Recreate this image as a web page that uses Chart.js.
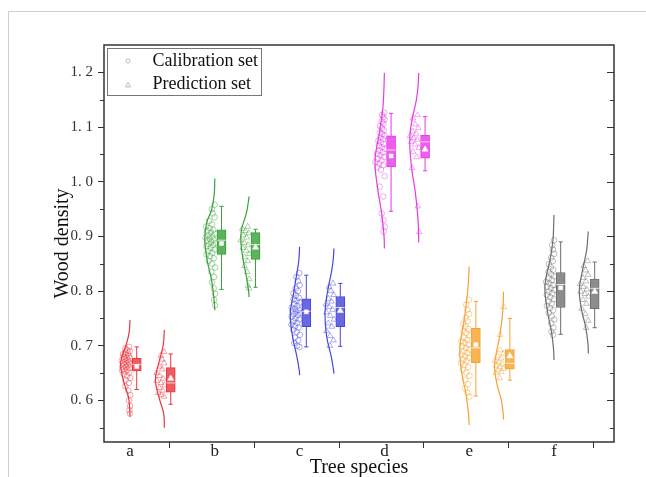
<!DOCTYPE html>
<html><head><meta charset="utf-8">
<script src="https://cdn.jsdelivr.net/npm/chart.js@4.4.1/dist/chart.umd.min.js"></script>
<style>
html,body{margin:0;padding:0;background:#fff;}
#wrap{position:relative;width:646px;height:477px;overflow:hidden;}
#frame{position:absolute;left:8px;top:11px;right:-2px;bottom:-2px;border-top:1px solid #cfcfcf;border-left:1px solid #cfcfcf;pointer-events:none;}
canvas{position:absolute;left:0;top:0;}
</style></head><body>
<div id="wrap"><canvas id="c" width="646" height="477"></canvas><div id="frame"></div></div>
<script>
// ---------- data ----------
const species = ['a','b','c','d','e','f'];
const yTicks = [0.6,0.7,0.8,0.9,1.0,1.1,1.2];
const yMinorTicks = [0.55,0.65,0.75,0.85,0.95,1.05,1.15];
const legendLabels = ['Calibration set','Prediction set'];

// box statistics (a..f)
const calWhiskerHigh = [0.698,0.955,0.829,1.125,0.781,0.890];
const calQ3          = [0.677,0.912,0.786,1.084,0.732,0.834];
const calMedian      = [0.666,0.893,0.763,1.058,0.696,0.812];
const calMean        = [0.662,0.887,0.762,1.047,0.702,0.806];
const calQ1          = [0.654,0.867,0.735,1.027,0.669,0.770];
const calWhiskerLow  = [0.620,0.803,0.698,0.946,0.608,0.721];
const predWhiskerHigh= [0.685,0.913,0.814,1.119,0.750,0.853];
const predQ3         = [0.660,0.907,0.790,1.085,0.693,0.822];
const predMedian     = [0.632,0.885,0.770,1.073,0.668,0.805];
const predMean       = [0.640,0.880,0.764,1.059,0.681,0.799];
const predQ1         = [0.615,0.858,0.735,1.043,0.657,0.768];
const predWhiskerLow = [0.593,0.807,0.699,1.020,0.637,0.733];

// individual samples
const calA = [0.698,0.695,0.692,0.690,0.688,0.686,0.685,0.683,0.681,0.680,0.678,0.677,0.676,0.674,0.673,0.671,0.670,0.668,0.667,0.666,0.665,0.664,0.662,0.661,0.660,0.658,0.656,0.655,0.653,0.651,0.648,0.645,0.641,0.637,0.632,0.626,0.618,0.610,0.600,0.590,0.582,0.576];
const calB = [0.958,0.950,0.942,0.935,0.928,0.922,0.918,0.915,0.912,0.910,0.907,0.905,0.902,0.900,0.898,0.896,0.894,0.892,0.890,0.888,0.886,0.884,0.882,0.879,0.876,0.873,0.870,0.867,0.864,0.860,0.855,0.850,0.843,0.835,0.826,0.816,0.805,0.795,0.784,0.774];
const calC = [0.833,0.826,0.818,0.811,0.805,0.800,0.796,0.792,0.788,0.785,0.782,0.779,0.776,0.773,0.770,0.768,0.766,0.764,0.762,0.760,0.758,0.756,0.753,0.750,0.748,0.745,0.742,0.739,0.736,0.733,0.729,0.725,0.720,0.715,0.710,0.705,0.700,0.698];
const calD = [1.126,1.122,1.118,1.114,1.110,1.106,1.102,1.098,1.094,1.090,1.087,1.084,1.081,1.078,1.075,1.072,1.069,1.066,1.063,1.060,1.057,1.054,1.051,1.048,1.045,1.042,1.039,1.036,1.033,1.030,1.026,1.022,1.010,0.991,0.973,0.942,0.930,0.918,0.909];
const calE = [0.784,0.775,0.766,0.758,0.751,0.745,0.740,0.735,0.731,0.727,0.723,0.719,0.715,0.711,0.708,0.705,0.702,0.699,0.696,0.693,0.690,0.687,0.684,0.681,0.678,0.675,0.672,0.669,0.665,0.661,0.656,0.651,0.645,0.638,0.630,0.622,0.614,0.607];
const calF = [0.893,0.884,0.876,0.868,0.861,0.855,0.849,0.844,0.839,0.835,0.831,0.827,0.823,0.820,0.817,0.814,0.811,0.808,0.805,0.802,0.799,0.796,0.793,0.789,0.785,0.781,0.777,0.773,0.769,0.765,0.760,0.754,0.748,0.741,0.733,0.726,0.720];
const predA = [0.689,0.682,0.675,0.668,0.662,0.657,0.650,0.645,0.640,0.636,0.632,0.628,0.623,0.618,0.614,0.610,0.607];
const predB = [0.918,0.914,0.910,0.906,0.902,0.898,0.893,0.888,0.884,0.879,0.874,0.868,0.862,0.855,0.846,0.835,0.822,0.810,0.805];
const predC = [0.814,0.808,0.800,0.793,0.786,0.781,0.776,0.771,0.766,0.761,0.755,0.748,0.741,0.735,0.727,0.718,0.710,0.700];
const predD = [1.122,1.116,1.105,1.098,1.092,1.088,1.084,1.080,1.077,1.073,1.068,1.062,1.055,1.045,1.025,0.955,0.908];
const predE = [0.771,0.720,0.692,0.686,0.681,0.677,0.673,0.670,0.667,0.664,0.661,0.658,0.655,0.652,0.650,0.641];
const predF = [0.855,0.846,0.838,0.830,0.824,0.818,0.813,0.808,0.803,0.799,0.795,0.790,0.784,0.777,0.768,0.758,0.746,0.733];

// half-violin density outlines: [value, density width]
const violinCalA = [[0.747,0],[0.725,0.01],[0.705,0.039],[0.670,0.11],[0.637,0.079],[0.607,0.02],[0.585,0.004],[0.570,0]];
const violinCalB = [[1.006,0],[0.975,0.008],[0.948,0.039],[0.924,0.098],[0.893,0.118],[0.857,0.091],[0.820,0.039],[0.783,0.008],[0.765,0]];
const violinCalC = [[0.881,0],[0.855,0.01],[0.833,0.032],[0.796,0.071],[0.759,0.11],[0.717,0.083],[0.680,0.032],[0.655,0.004],[0.646,0]];
const violinCalD = [[1.199,0],[1.160,0.008],[1.132,0.02],[1.089,0.059],[1.040,0.11],[0.991,0.083],[0.942,0.032],[0.900,0.004],[0.878,0]];
const violinCalE = [[0.845,0],[0.820,0.008],[0.796,0.02],[0.747,0.059],[0.695,0.11],[0.649,0.086],[0.613,0.039],[0.576,0.008],[0.555,0]];
const violinCalF = [[0.939,0],[0.893,0.012],[0.857,0.047],[0.811,0.106],[0.765,0.079],[0.723,0.027],[0.692,0.004],[0.674,0]];
const violinPredA = [[0.729,0],[0.700,0.015],[0.668,0.067],[0.637,0.106],[0.601,0.055],[0.576,0.008],[0.550,0]];
const violinPredB = [[0.973,0],[0.943,0.032],[0.912,0.091],[0.890,0.098],[0.857,0.071],[0.826,0.032],[0.802,0.008],[0.789,0]];
const violinPredC = [[0.878,0],[0.855,0.01],[0.833,0.032],[0.796,0.079],[0.759,0.106],[0.717,0.086],[0.680,0.032],[0.655,0.004],[0.649,0]];
const violinPredD = [[1.199,0],[1.175,0.008],[1.150,0.027],[1.113,0.079],[1.077,0.106],[1.028,0.086],[0.979,0.039],[0.930,0.008],[0.889,0]];
const violinPredE = [[0.799,0],[0.765,0.008],[0.723,0.039],[0.686,0.086],[0.662,0.106],[0.631,0.079],[0.601,0.027],[0.576,0.004],[0.565,0]];
const violinPredF = [[0.909,0],[0.875,0.02],[0.839,0.067],[0.802,0.106],[0.765,0.079],[0.735,0.032],[0.704,0.004],[0.686,0]];

// ---------- styling / layout ----------
const lineColors  = ['#e8363f','#3a9e3a','#4646dc','#e23ce2','#f5a235','#6e6e6e'];
const boxColors   = ['#ef5a63','#5bb35b','#6868e2','#ee5eee','#f8b450','#8c8c8c'];
const pointColors = ['rgba(232,54,63,0.55)','rgba(58,158,58,0.55)','rgba(70,70,220,0.55)','rgba(226,60,226,0.55)','rgba(245,162,53,0.6)','rgba(110,110,110,0.55)'];
const CAL_VIOLIN = 0, CAL_BOX = 0.079, PRED_VIOLIN = 0.405, PRED_BOX = 0.48, TICK_OFF = 0.46;
const BOX_HALF = 0.053, CAP_HALF = 0.025;
const SERIF = "'Liberation Serif','Times New Roman',serif";

const calPoints = [calA,calB,calC,calD,calE,calF];
const predPoints = [predA,predB,predC,predD,predE,predF];
const calViolins = [violinCalA,violinCalB,violinCalC,violinCalD,violinCalE,violinCalF];
const predViolins = [violinPredA,violinPredB,violinPredC,violinPredD,violinPredE,violinPredF];

function widthAt(outline, v){
  for (let k=0;k<outline.length-1;k++){
    const [v0,w0]=outline[k],[v1,w1]=outline[k+1];
    if (v<=v0 && v>=v1){ const t=(v0-v)/(v0-v1||1); return w0+(w1-w0)*t; }
  }
  return 0;
}
function jitter(base, v, outline, i){
  const f = (i*0.618034 + 0.27) % 1;
  return base + 0.008 - f*(widthAt(outline,v)*1.0 + 0.012);
}

const datasets = [];
species.forEach((s, i) => {
  const c = i + 1;
  [[calViolins[i], c+CAL_VIOLIN],[predViolins[i], c+PRED_VIOLIN]].forEach(([ol, base]) => {
    datasets.push({type:'line', data: ol.map(([v,w]) => ({x: base - w, y: v})),
      borderColor: lineColors[i], borderWidth: 1.2, pointRadius: 0, tension: 0.4, fill: false, order: 6});
  });
  datasets.push({type:'scatter', data: calPoints[i].map((v,k)=>({x: jitter(c+CAL_VIOLIN, v, calViolins[i], k), y: v})),
    pointStyle:'circle', pointRadius: 2.8, borderWidth: 0.8, borderColor: pointColors[i], backgroundColor:'rgba(0,0,0,0)', order: 5});
  datasets.push({type:'scatter', data: predPoints[i].map((v,k)=>({x: jitter(c+PRED_VIOLIN, v, predViolins[i], k), y: v})),
    pointStyle:'triangle', pointRadius: 3.3, borderWidth: 0.8, borderColor: pointColors[i], backgroundColor:'rgba(0,0,0,0)', order: 5});
  const whisk = [];
  [[c+CAL_BOX, calWhiskerLow[i], calWhiskerHigh[i]],[c+PRED_BOX, predWhiskerLow[i], predWhiskerHigh[i]]].forEach(([p, lo, hi]) => {
    whisk.push({x:p,y:lo},{x:p,y:hi},{x:p,y:null},
      {x:p-CAP_HALF,y:hi},{x:p+CAP_HALF,y:hi},{x:p,y:null},
      {x:p-CAP_HALF,y:lo},{x:p+CAP_HALF,y:lo},{x:p,y:null});
  });
  datasets.push({type:'line', data: whisk, borderColor: lineColors[i], borderWidth: 1, pointRadius: 0, spanGaps:false, tension:0, order: 4});
  datasets.push({type:'bar', data: [{x:c+CAL_BOX, y:[calQ1[i], calQ3[i]]},{x:c+PRED_BOX, y:[predQ1[i], predQ3[i]]}],
    backgroundColor: boxColors[i], borderColor: lineColors[i], borderWidth: 1, borderSkipped: false,
    barThickness: 9, grouped: false, order: 3});
  datasets.push({type:'line', data: [
      {x:c+CAL_BOX-BOX_HALF, y:calMedian[i]},{x:c+CAL_BOX+BOX_HALF, y:calMedian[i]},{x:c, y:null},
      {x:c+PRED_BOX-BOX_HALF, y:predMedian[i]},{x:c+PRED_BOX+BOX_HALF, y:predMedian[i]}],
    borderColor:'rgba(255,255,255,0.75)', borderWidth: 1, pointRadius: 0, spanGaps:false, tension:0, order: 2});
  datasets.push({type:'scatter', data:[{x:c+CAL_BOX, y:calMean[i]}], pointStyle:'rect', pointRadius: 2.8,
    backgroundColor:'#ffffff', borderColor:'#ffffff', borderWidth:0.5, order: 1});
  datasets.push({type:'scatter', data:[{x:c+PRED_BOX, y:predMean[i]}], pointStyle:'triangle', pointRadius: 3.6,
    backgroundColor:'#ffffff', borderColor:'#ffffff', borderWidth:0.5, order: 1});
});

const framePlugin = {
  id: 'frame',
  afterDraw(chart){
    const {ctx, chartArea: a, scales: {x, y}} = chart;
    ctx.save();
    ctx.strokeStyle = '#333'; ctx.lineWidth = 1;
    ctx.beginPath();
    yMinorTicks.forEach(v => { const py = Math.round(y.getPixelForValue(v))+0.5;
      ctx.moveTo(a.left-4, py); ctx.lineTo(a.left, py);
      ctx.moveTo(a.right, py); ctx.lineTo(a.right-4, py); });
    yTicks.forEach(v => { const py = Math.round(y.getPixelForValue(v))+0.5;
      ctx.moveTo(a.right, py); ctx.lineTo(a.right-7, py); });
    species.forEach((s, i) => { const px = Math.round(x.getPixelForValue(i + 1 + TICK_OFF))+0.5;
      ctx.moveTo(px, a.bottom); ctx.lineTo(px, a.bottom + 6); });
    ctx.stroke();
    ctx.lineWidth = 1.5; ctx.strokeStyle = '#333';
    ctx.strokeRect(a.left, a.top, a.right-a.left, a.bottom-a.top);
    // legend
    const lx = a.left + 3.5, ly = a.top + 3.5;
    ctx.lineWidth = 1; ctx.strokeStyle = '#777';
    ctx.strokeRect(lx, ly, 154, 47);
    ctx.strokeStyle = '#aaa'; ctx.lineWidth = 0.8;
    ctx.beginPath(); ctx.arc(lx+20.5, ly+12.5, 2, 0, Math.PI*2); ctx.stroke();
    ctx.beginPath(); ctx.moveTo(lx+20.5, ly+34); ctx.lineTo(lx+23, ly+38.5); ctx.lineTo(lx+18, ly+38.5); ctx.closePath(); ctx.stroke();
    ctx.fillStyle = '#111'; ctx.font = "18px " + SERIF; ctx.textBaseline = 'middle'; ctx.textAlign = 'left';
    ctx.fillText(legendLabels[0], lx+45, ly+12.5);
    ctx.fillText(legendLabels[1], lx+45, ly+36);
    ctx.restore();
  }
};

new Chart(document.getElementById('c'), {
  type: 'scatter',
  data: { datasets },
  plugins: [framePlugin],
  options: {
    responsive: false, animation: false, events: [],
    layout: { padding: { left: 0, right: 32, top: 45, bottom: 0 } },
    plugins: { legend: { display: false }, tooltip: { enabled: false } },
    scales: {
      x: {
        type: 'linear', min: 0.693, max: 6.708, offset: false,
        afterBuildTicks: sc => { sc.ticks = species.map((s, i) => ({ value: i + 1 + TICK_OFF })); },
        afterFit: sc => { sc.height = 35; },
        grid: { display: true, drawOnChartArea: false, drawTicks: true, tickLength: 5, color: 'rgba(0,0,0,0)', offset: false },
        border: { display: false },
        ticks: { autoSkip: false, maxRotation: 0, labelOffset: -39, padding: -4, color: '#222',
          font: { family: SERIF, size: 17, lineHeight: 1 },
          callback: (v, idx) => species[idx] },
        title: { display: true, text: 'Tree species', color: '#111', font: { family: SERIF, size: 20, lineHeight: 1.2 }, padding: { top: 0, bottom: -3 } }
      },
      y: {
        type: 'linear', min: 0.524, max: 1.25,
        afterBuildTicks: sc => { sc.ticks = yTicks.map(v => ({ value: v })); },
        afterFit: sc => { sc.width = 104; },
        grid: { display: true, drawOnChartArea: false, drawTicks: true, tickLength: 6, color: '#333' },
        border: { display: false },
        ticks: { padding: 5, color: '#333', font: { family: SERIF, size: 15 },
          callback: v => v.toFixed(1).replace('.', '. ') },
        title: { display: true, text: 'Wood density', color: '#111', font: { family: SERIF, size: 20, lineHeight: 1.2 }, padding: { top: 51, bottom: 0 } }
      }
    }
  }
});
</script>
</body></html>
